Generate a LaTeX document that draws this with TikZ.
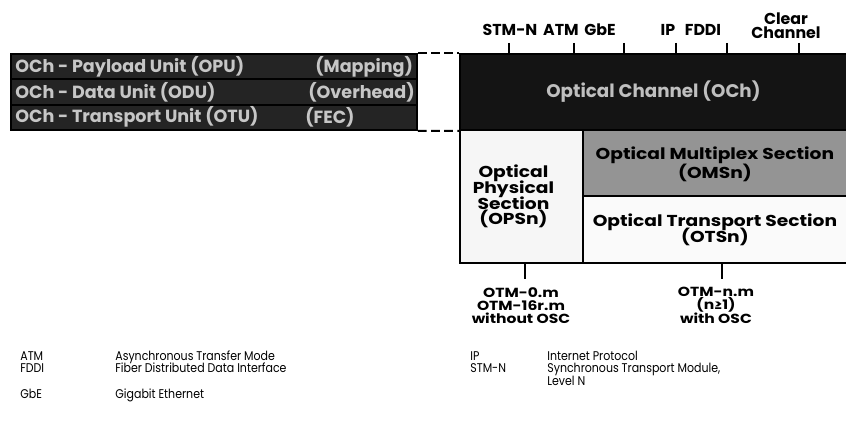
\documentclass[tikz,border=0pt]{standalone}
\usepackage{fontspec}
\setmainfont{Poppins}
\newfontfamily\widefont{Poppins}[FakeStretch=1.18]
\newfontfamily\legendfont{Poppins}[FakeStretch=0.87]
\usetikzlibrary{positioning}
\newcommand\tightskip{\lineskiplimit -20pt\relax}
\colorlet{chcolor}{black!92}
\colorlet{unitcolor}{black!86}
\colorlet{omscolor}{black!42}
\colorlet{palecolor}{gray!7}
\tikzset{
    % --- boxes ---
    layer_box/.style={draw=black, line width=1.1pt, inner sep=0pt, anchor=north west},
    unit_box/.style={layer_box, fill=unitcolor, minimum width=8.12cm, minimum height=0.5067cm},
    unit_text/.style={text=gray!45, inner sep=0pt, anchor=west,
                      font=\fontsize{10}{11}\selectfont\bfseries},
    sect_text/.style={align=center, inner sep=0pt,
                      font=\widefont\fontsize{9}{9}\selectfont\bfseries\tightskip},
    % --- labels and ticks ---
    sig_label/.style={inner sep=0pt, anchor=base,
                      font=\fontsize{9}{8}\selectfont\bfseries\tightskip},
    otm_label/.style={inner sep=0pt, anchor=north, align=center,
                      font=\widefont\fontsize{7.5}{7.5}\selectfont\bfseries\tightskip},
    tick_line/.style={line width=1.3pt},
    gap_line/.style={line width=1.1pt, dash pattern=on 5pt off 2.5pt},
    legend/.style={inner sep=0pt, anchor=base west, align=left,
                   font=\legendfont\fontsize{7.2}{7.4}\selectfont\tightskip}
}

\begin{document}
\begin{tikzpicture}[x=0.02cm, y=-0.02cm]
    \useasboundingbox (0,0) rectangle (846,428);

    % OCh sub-layers
    \node[unit_box] (unitA) at (10,53) {};
    \node[unit_box] (unitB) at (10,78.33) {};
    \node[unit_box] (unitC) at (10,103.67) {};
    \node[unit_text] (opu) at ([xshift=0.1cm]unitA.west) {OCh - Payload Unit (OPU)};
    \node[unit_text] (mapping) at ([xshift=6.1cm]unitA.west) {(Mapping)};
    \node[unit_text] (odu) at ([xshift=0.1cm]unitB.west) {OCh - Data Unit (ODU)};
    \node[unit_text] (overhead) at ([xshift=5.96cm]unitB.west) {(Overhead)};
    \node[unit_text] (otu) at ([xshift=0.1cm]unitC.west) {OCh - Transport Unit (OTU)};
    \node[unit_text] (fec) at ([xshift=5.9cm]unitC.west) {(FEC)};

    % layer stack
    \node[layer_box, fill=chcolor, minimum width=7.74cm, minimum height=1.52cm] (och) at (459,53) {};
    \node[sect_text, text=gray!50, font=\fontsize{10.4}{11}\selectfont\bfseries] (ochtext) at (och.center) {Optical Channel (OCh)};
    \node[layer_box, fill=palecolor, minimum width=2.46cm, minimum height=2.66cm] (opsn) at (459,129) {};
    \node[sect_text] (opsntext) at ([xshift=-0.16cm]opsn.center) {Optical\\Physical\\Section\\(OPSn)};
    \node[layer_box, fill=omscolor, minimum width=5.28cm, minimum height=1.32cm] (omsn) at (582,129) {};
    \node[sect_text, font=\widefont\fontsize{9}{10.5}\selectfont\bfseries\tightskip] (omsntext) at ([yshift=-0.03cm]omsn.center) {Optical Multiplex Section\\(OMSn)};
    \node[layer_box, fill=palecolor!60, minimum width=5.28cm, minimum height=1.34cm] (otsn) at (582,195) {};
    \node[sect_text] (otsntext) at (otsn.center) {Optical Transport Section\\(OTSn)};

    % dashed mapping to OCh
    \draw[gap_line] (unitA.north east) -- (och.north west);
    \draw[gap_line] (unitC.south east) -- (och.south west);

    % client signals
    \node[sig_label] (stm) at (510,36) {STM-N};
    \node[sig_label] (atm) at (561,36) {ATM};
    \node[sig_label] (gbe) at (600,36) {GbE};
    \node[sig_label] (ip) at (668,36) {IP};
    \node[sig_label] (fddi) at (703,36) {FDDI};
    \node[sig_label, anchor=south, align=center] (clear) at (786,39) {Clear\\Channel};
    \foreach \name/\x in {tstm/509, tatm/574, tgbe/624, tip/676, tfddi/727, tclear/799}{
        \coordinate (\name) at (\x,43);
        \draw[tick_line] (\name) -- (\name |- och.north);
    }

    % OTM interfaces
    \coordinate (tzero) at (525,279);
    \coordinate (tn) at (722,279);
    \draw[tick_line] (tzero |- opsn.south) -- (tzero);
    \draw[tick_line] (tn |- otsn.south) -- (tn);
    \node[otm_label] (otmzero) at (521,287) {OTM-0.m\\OTM-16r.m\\without OSC};
    \node[otm_label] (otmn) at (716,287) {OTM-n.m\\(n≥1)\\with OSC};

    % legend
    \node[legend] (kATM) at (20,361) {ATM};
    \node[legend] (vATM) at (115,361) {Asynchronous Transfer Mode};
    \node[legend] (kFDDI) at (20,373) {FDDI};
    \node[legend] (vFDDI) at (115,373) {Fiber Distributed Data Interface};
    \node[legend] (kGbE) at (20,399) {GbE};
    \node[legend] (vGbE) at (115,399) {Gigabit Ethernet};
    \node[legend] (kIP) at (470,361) {IP};
    \node[legend] (vIP) at (547,361) {Internet Protocol};
    \node[legend] (kSTM) at (470,373) {STM-N};
    \node[legend] (vSTM) at (547,386) {Synchronous Transport Module,\\Level N};
\end{tikzpicture}
\end{document}
